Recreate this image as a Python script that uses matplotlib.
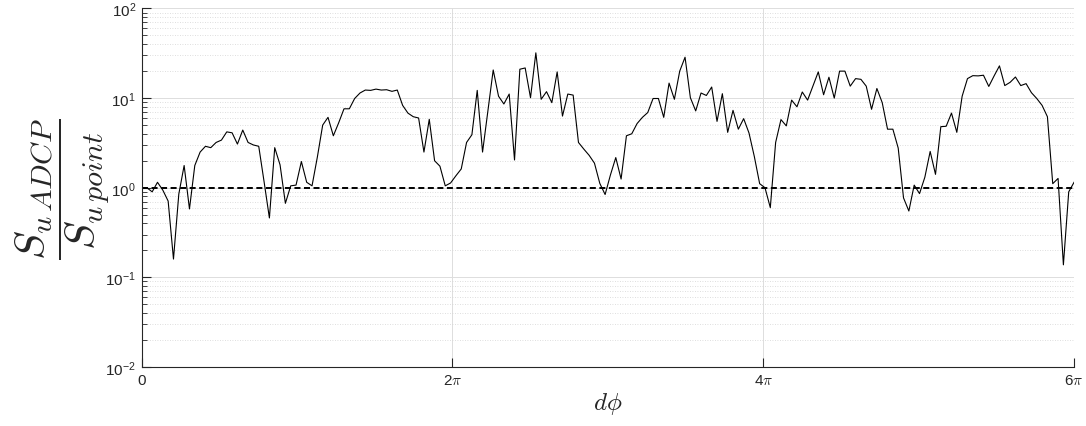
import matplotlib
matplotlib.use('Agg')
import matplotlib.pyplot as plt
import numpy as np
from matplotlib.ticker import LogLocator, NullFormatter

plt.rcParams['font.family'] = ['Liberation Sans', 'DejaVu Sans']
plt.rcParams['mathtext.fontset'] = 'cm'

# spectral ratio S_u(ADCP) / S_u(point)
ratio = [1.0, 1.0, 0.90, 1.15, 0.94, 0.71, 0.16, 0.85, 1.77, 0.58,
         1.77, 2.5, 2.9, 2.8, 3.2, 3.4, 4.2, 4.1, 3.07, 4.4,
         3.2, 3.0, 2.9, 1.17, 0.46, 2.8, 1.8, 0.67, 1.05, 1.07,
         1.96, 1.15, 1.05, 2.2, 5.0, 6.1, 3.8, 5.3, 7.6, 7.6,
         9.9, 11.4, 12.3, 12.2, 12.6, 12.3, 12.4, 11.9, 12.3, 8.3,
         6.8, 6.2, 6.0, 2.5, 5.8, 2.0, 1.74, 1.05, 1.13, 1.36,
         1.62, 3.2, 3.9, 12.2, 2.5, 7.1, 20.6, 10.5, 8.6, 11.1,
         2.04, 21.0, 21.7, 10.1, 32.0, 9.7, 11.8, 8.9, 19.6, 6.3,
         11.1, 10.8, 3.2, 2.7, 2.3, 1.88, 1.12, 0.84, 1.39, 2.17,
         1.25, 3.8, 4.0, 5.2, 6.1, 6.9, 9.9, 9.9, 6.1, 14.7,
         9.7, 20.0, 28.6, 10.1, 7.2, 11.4, 10.7, 13.3, 5.5, 11.2,
         4.15, 7.3, 4.5, 5.9, 4.08, 2.23, 1.11, 1.0, 0.60, 3.2,
         5.76, 4.9, 9.5, 8.0, 11.7, 9.5, 13.6, 19.6, 10.9, 17.1,
         10.0, 20.0, 20.0, 13.6, 16.5, 16.2, 13.6, 7.5, 12.8, 8.9,
         4.5, 4.5, 2.77, 0.77, 0.55, 1.07, 0.86, 1.31, 2.54, 1.41,
         4.8, 4.85, 6.8, 4.15, 10.5, 16.5, 17.8, 17.7, 18.0, 13.5,
         17.7, 22.9, 13.8, 15.0, 17.2, 13.8, 14.5, 11.5, 9.9, 8.3,
         6.2, 1.11, 1.27, 0.138, 0.90, 1.15]

x_end = 6 * np.pi
dphi = np.linspace(0, x_end, len(ratio))
ref_level = 1.0

xtick_pos = [0, 2 * np.pi, 4 * np.pi, 6 * np.pi]
xtick_labels = ['0', r'2$\pi$', r'4$\pi$', r'6$\pi$']

axcol = '#262626'

fig = plt.figure(figsize=(10.86, 4.27), dpi=100)
ax = fig.add_axes([0.1303, 0.1382, 0.8587, 0.8396])

ax.plot(dphi, ratio, color='k', lw=0.8)
ax.axhline(ref_level, color='k', lw=1.4, ls=(0, (3.1, 1.8)))

ax.set_yscale('log')
ax.set_ylim(1e-2, 1e2)
ax.set_xlim(0, x_end)
ax.set_xticks(xtick_pos, xtick_labels)
ax.yaxis.set_minor_locator(LogLocator(base=10, subs=np.arange(2, 10) * 1.0, numticks=20))
ax.yaxis.set_minor_formatter(NullFormatter())

ax.grid(True, which='major', color='#dddddd', lw=0.7, ls='-')
ax.grid(True, which='minor', axis='y', color='#d4d4d4', lw=0.6, ls=(0, (1, 2)))
ax.set_axisbelow(True)

ax.spines['top'].set_visible(False)
ax.spines['right'].set_visible(False)
for s in ['left', 'bottom']:
    ax.spines[s].set_color(axcol)
    ax.spines[s].set_linewidth(0.8)

ax.tick_params(which='both', direction='in', colors=axcol, labelsize=11)
ax.tick_params(which='major', length=6.5, width=0.8)
ax.tick_params(which='minor', length=3.8, width=0.6)
ax.tick_params(axis='x', pad=4.5)
ax.tick_params(axis='y', pad=4)

ax.set_xlabel(r'$d\phi$', fontsize=18, color=axcol, labelpad=2)
# subscripts kept at one size, like LaTeX's scriptscript floor
ax.set_ylabel(r'$\dfrac{S_{u}{}_{ADCP}}{S_{u}{}_{point}}$', fontsize=31, color=axcol)
ax.yaxis.set_label_coords(-0.032, 0.5)

fig.savefig('out.png', dpi=100)
